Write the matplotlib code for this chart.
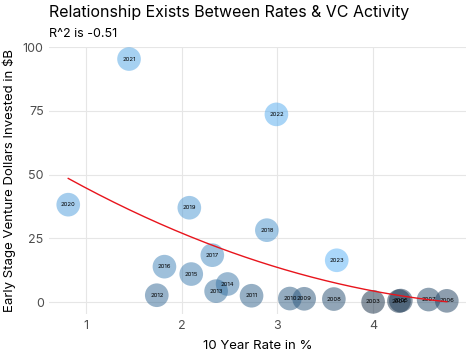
import numpy as np
import matplotlib

matplotlib.use("Agg")
from matplotlib import pyplot as plt
from matplotlib.colors import LinearSegmentedColormap

# ----
# Data
# ----
years = [2003, 2004, 2005, 2006, 2007, 2008, 2009, 2010, 2011, 2012, 2013,
         2014, 2015, 2016, 2017, 2018, 2019, 2020, 2021, 2022, 2023]
rate = [4.00, 4.27, 4.29, 4.77, 4.58, 3.59, 3.28, 3.13, 2.73, 1.74, 2.36,
        2.48, 2.10, 1.82, 2.32, 2.89, 2.08, 0.815, 1.45, 2.99, 3.62]
dollars = [0.1, 0.4, 0.6, 0.5, 1.0, 1.2, 1.3, 1.4, 2.5, 2.7, 4.3,
           7.1, 11.0, 13.9, 18.4, 28.2, 37.0, 38.2, 95.3, 73.6, 16.4]

x = np.array(rate)
y = np.array(dollars)

plt.rcParams['font.family'] = ['Inter', 'DejaVu Sans']

fig = plt.figure(figsize=(4.74, 3.55), dpi=100)
ax = fig.add_axes([0.104, 0.1155, 0.879, 0.7525])

# ggplot style continuous colour scale
cmap = LinearSegmentedColormap.from_list('gg', ['#132B43', '#56B1F7'])
ax.scatter(x, y, s=290, c=years, cmap=cmap, alpha=0.5, linewidths=0, zorder=3)
for xi, yi, yr in zip(x, y, years):
    ax.text(xi, yi, str(yr), fontsize=4.3, ha='center', va='center', zorder=4)

# quadratic trend
coef = np.polyfit(x, y, 2)
xs = np.linspace(x.min(), x.max(), 200)
ax.plot(xs, np.polyval(coef, xs), color='#e8141c', lw=1.0, zorder=5)

ax.set_xlim(0.617, 4.97)
ax.set_ylim(-4.66, 100.07)
ax.set_xticks([1, 2, 3, 4])
ax.set_yticks([0, 25, 50, 75, 100])
ax.grid(color='#e6e6e6', lw=0.8, zorder=0)
for s in ax.spines.values():
    s.set_visible(False)
ax.tick_params(length=0, labelsize=9, colors='#4d4d4d', pad=4)
ax.set_xlabel('10 Year Rate in %', fontsize=9.5, labelpad=6)
ax.set_ylabel('Early Stage Venture Dollars Invested in $B', fontsize=9.5, labelpad=5)

fig.text(0.104, 0.965, 'Relationship Exists Between Rates & VC Activity', fontsize=11.5, va='center')
fig.text(0.104, 0.903, 'R^2 is -0.51', fontsize=9, va='center')

fig.savefig('out.png', dpi=100)
